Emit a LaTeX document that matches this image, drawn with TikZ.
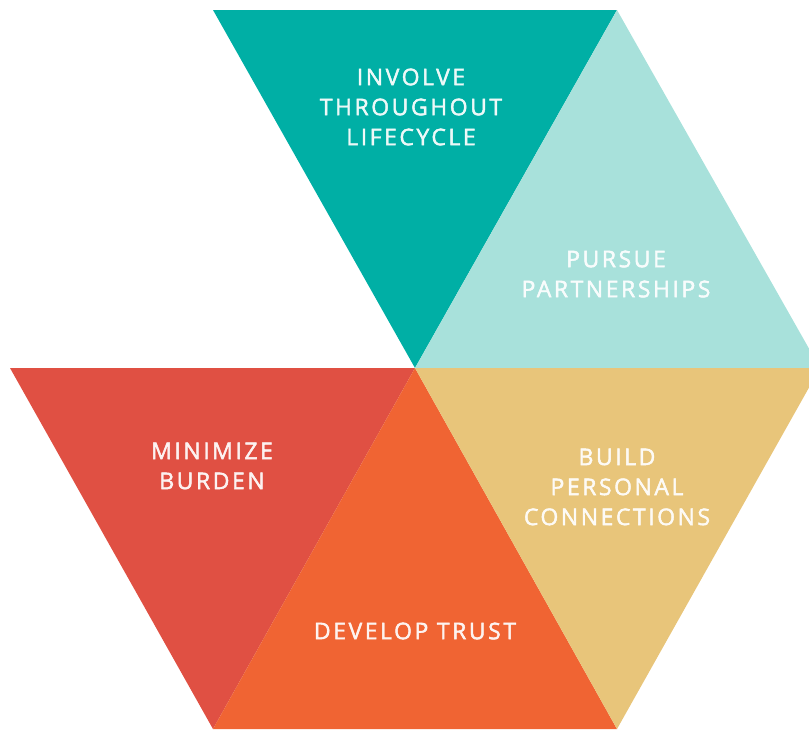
\documentclass[tikz,border=0pt]{standalone}
\usepackage{fontspec}
\setmainfont{Open Sans}[LetterSpace=11, FakeBold=1.8]
\definecolor{tealdark}{HTML}{00AFA5}
\definecolor{teallight}{HTML}{A8E1DB}
\definecolor{redtri}{HTML}{E05043}
\definecolor{orangetri}{HTML}{F06433}
\definecolor{yellowtri}{HTML}{E8C57A}
\tikzset{
  label/.style={text=white, text opacity=0.92, align=center,
    font=\fontsize{23}{30}\selectfont, inner sep=0pt}
}
\begin{document}
\begin{tikzpicture}[x=1pt,y=-1pt]
\useasboundingbox (0,0) rectangle (809,731);
\begin{scope}
\clip (0,0) rectangle (809,731);
% hexagon vertices
\coordinate (tl) at (213,10);
\coordinate (tr) at (617,10);
\coordinate (c)  at (415,368);
\coordinate (l)  at (10,368);
\coordinate (r)  at (820,368);
\coordinate (bl) at (213,729);
\coordinate (br) at (617,729);
% six triangles
\fill[tealdark]  (tl) -- (tr) -- (c) -- cycle;
\fill[teallight] (tr) -- (r) -- (c) -- cycle;
\fill[redtri]    (l) -- (c) -- (bl) -- cycle;
\fill[orangetri] (c) -- (br) -- (bl) -- cycle;
\fill[yellowtri] (c) -- (r) -- (br) -- cycle;
\end{scope}
% labels
\node[label] (involve) at (411,107) {INVOLVE\\THROUGHOUT\\LIFECYCLE};
\node[label] (pursue) at (616,274) {PURSUE\\PARTNERSHIPS};
\node[label] (minimize) at (212,466) {MINIMIZE\\BURDEN};
\node[label] (build) at (617,487) {BUILD\\PERSONAL\\CONNECTIONS};
\node[label] (trust) at (415,631) {DEVELOP TRUST};
\end{tikzpicture}
\end{document}
